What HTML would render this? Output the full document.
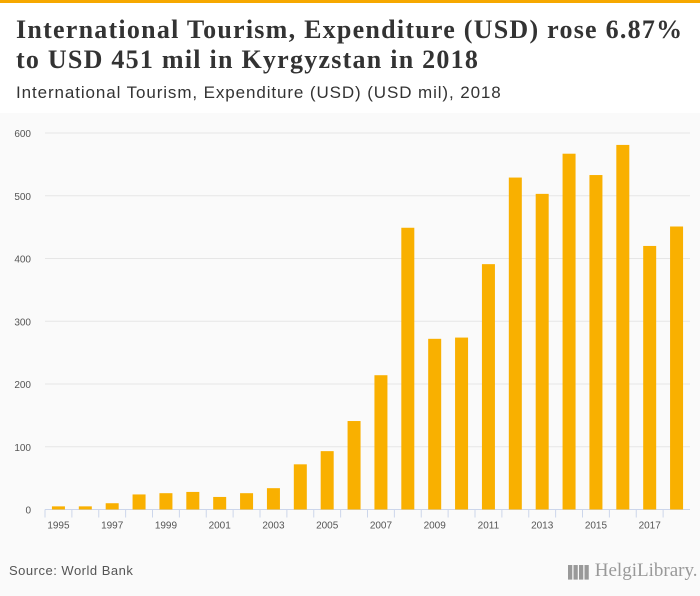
<!DOCTYPE html>
<html><head><meta charset="utf-8"><style>
body{margin:0;width:700px;height:596px;overflow:hidden;background:#fafafa;font-family:"Liberation Sans",sans-serif;}
#hdr{position:absolute;left:0;top:0;width:700px;height:113px;background:#fff;border-top:3px solid #f6a800;box-sizing:border-box;}
#title{position:absolute;left:16px;top:12px;font-family:"Liberation Serif",serif;font-weight:bold;font-size:26px;line-height:30px;color:#333;letter-spacing:1.25px;white-space:nowrap;}
#sub{position:absolute;left:16px;top:80px;font-size:17px;color:#333;letter-spacing:0.9px;white-space:nowrap;}
#src{position:absolute;left:9px;top:563px;font-size:13px;color:#555;letter-spacing:0.5px;}
#logo{position:absolute;left:568px;top:560px;font-size:19px;color:#999;font-family:"Liberation Serif",serif;white-space:nowrap;}
</style></head><body>
<div id="hdr">
<div id="title">International Tourism, Expenditure (USD) rose 6.87%<br>to USD 451 mil in Kyrgyzstan in 2018</div>
<div id="sub">International Tourism, Expenditure (USD) (USD mil), 2018</div>
</div>
<svg id="chart" width="700" height="596" style="position:absolute;left:0;top:0"></svg>
<div id="src">Source: World Bank</div>
<div id="logo"><span style="font-size:12px;letter-spacing:-3px">▌▌▌▌</span> HelgiLibrary.</div>
<script>
const years=[1995,1996,1997,1998,1999,2000,2001,2002,2003,2004,2005,2006,2007,2008,2009,2010,2011,2012,2013,2014,2015,2016,2017,2018];
const values=[5,5,10,24,26,28,20,26,34,72,93,141,214,449,272,274,391,529,503,567,533,581,420,451];
const yTicks=[0,100,200,300,400,500,600];
const NS="http://www.w3.org/2000/svg";
const svg=document.getElementById('chart');
const x0=45,x1=690,y0=509.5,y1=133,maxV=600;
const step=(x1-x0)/years.length;
const xs=i=>x0+step*(i+0.5);
const ys=v=>y0-(v/maxV)*(y0-y1);
function mk(t,a){const e=document.createElementNS(NS,t);for(const k in a)e.setAttribute(k,a[k]);svg.appendChild(e);return e;}
yTicks.forEach(v=>{
 const g=mk('line',{x1:x0,x2:x1,y1:ys(v),y2:ys(v),stroke:v?'#e6e6e6':'#ccd6eb','stroke-width':1});
 
 
 const t=mk('text',{x:31,y:ys(v)+4,'text-anchor':'end','font-size':10,fill:'#555','font-family':'Liberation Sans, sans-serif'});
 t.textContent=v;
 
 
});
years.forEach((yr,i)=>{
 const tx=x0+step*i;
 const tk=mk('line',{x1:tx,x2:tx,y1:y0,y2:y0+8,stroke:'#ccd6eb'});
 
 
 const b=mk('rect',{x:xs(i)-6.5,y:ys(values[i]),width:13,height:y0-ys(values[i]),fill:'#f9b000'});
 
 
 if(i%2===0){
  const t=mk('text',{x:xs(i),y:y0+19,'text-anchor':'middle','font-size':10,fill:'#555','font-family':'Liberation Sans, sans-serif'});
  t.textContent=yr;
  
  
 }
});
</script>
</body></html>
